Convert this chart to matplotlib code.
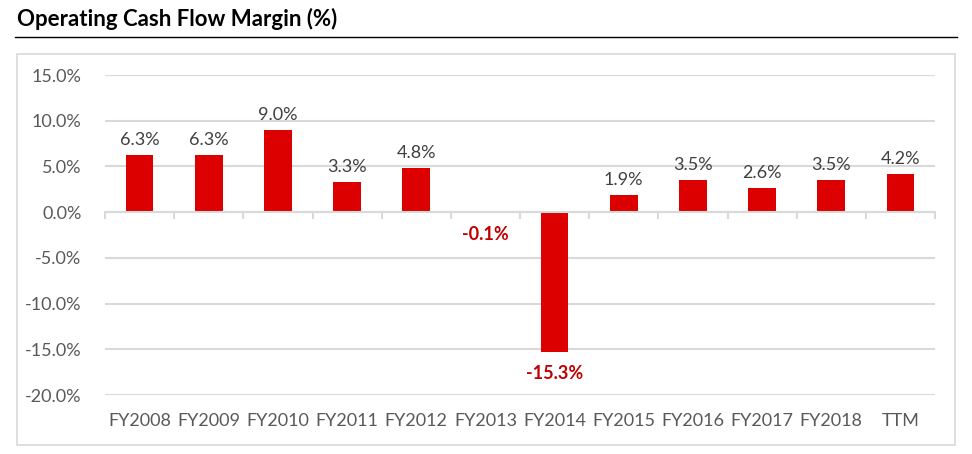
import matplotlib
matplotlib.use("Agg")
import matplotlib.pyplot as plt
from matplotlib.patches import Rectangle
from matplotlib.lines import Line2D
import numpy as np

categories = ["FY2008", "FY2009", "FY2010", "FY2011", "FY2012", "FY2013",
              "FY2014", "FY2015", "FY2016", "FY2017", "FY2018", "TTM"]
margins = [6.3, 6.3, 9.0, 3.3, 4.8, -0.1, -15.3, 1.9, 3.5, 2.6, 3.5, 4.2]
yticks = [15, 10, 5, 0, -5, -10, -15, -20]

RED = "#DD0000"
GRID = "#D9D9D9"
TXT = "#595959"

plt.rcParams["font.family"] = ["Lato", "DejaVu Sans"]

fig = plt.figure(figsize=(9.72, 4.54), dpi=100)

# title and rule under it
fig.text(17 / 972, 1 - 19 / 454, "Operating Cash Flow Margin (%)", fontsize=16,
         fontweight="bold", color="black", va="center", ha="left")
fig.add_artist(Line2D([15 / 972, 957 / 972], [1 - 37 / 454, 1 - 37 / 454],
                      color="black", lw=1))
# chart frame
fig.add_artist(Rectangle((17 / 972, 1 - 445 / 454), 938 / 972, 391 / 454,
                         fill=False, edgecolor=GRID, lw=1.2))

ax = fig.add_axes([105 / 972, 1 - 395 / 454, 830 / 972, 320 / 454])
x = np.arange(len(categories))
ax.bar(x, margins, width=0.4, color=RED, zorder=3)

ax.set_xlim(-0.5, len(categories) - 0.5)
ax.set_ylim(-20, 15)
ax.set_yticks(yticks)
ax.set_yticklabels([f"{v:.1f}%" for v in yticks])
ax.grid(axis="y", color=GRID, lw=1.5, zorder=0)
for s in ax.spines.values():
    s.set_visible(False)
ax.tick_params(axis="y", length=0, labelsize=13, labelcolor=TXT, pad=17)
ax.set_xticks([])

# zero axis line with boundary tick marks
ax.axhline(0, color=GRID, lw=1.5, zorder=4)
for b in np.arange(-0.5, len(categories) + 0.5, 1.0):
    ax.plot([b, b], [0, -0.65], color=GRID, lw=1.5, zorder=2, clip_on=False)

# category labels below plot
for i, c in enumerate(categories):
    ax.annotate(c, (i, -20), xytext=(0, -19), textcoords="offset points",
                ha="center", va="center", fontsize=13, color=TXT)

for i, v in enumerate(margins):
    if v >= 0:
        ax.annotate(f"{v:.1f}%", (i, v), xytext=(0, 5), textcoords="offset points",
                    ha="center", va="bottom", fontsize=13, color="#404040")
    else:
        ax.annotate(f"{v:.1f}%", (i, v), xytext=(0, -9), textcoords="offset points",
                    ha="center", va="top", fontsize=13, color="#C00000",
                    fontweight="bold")

fig.savefig("out.png", dpi=100)
